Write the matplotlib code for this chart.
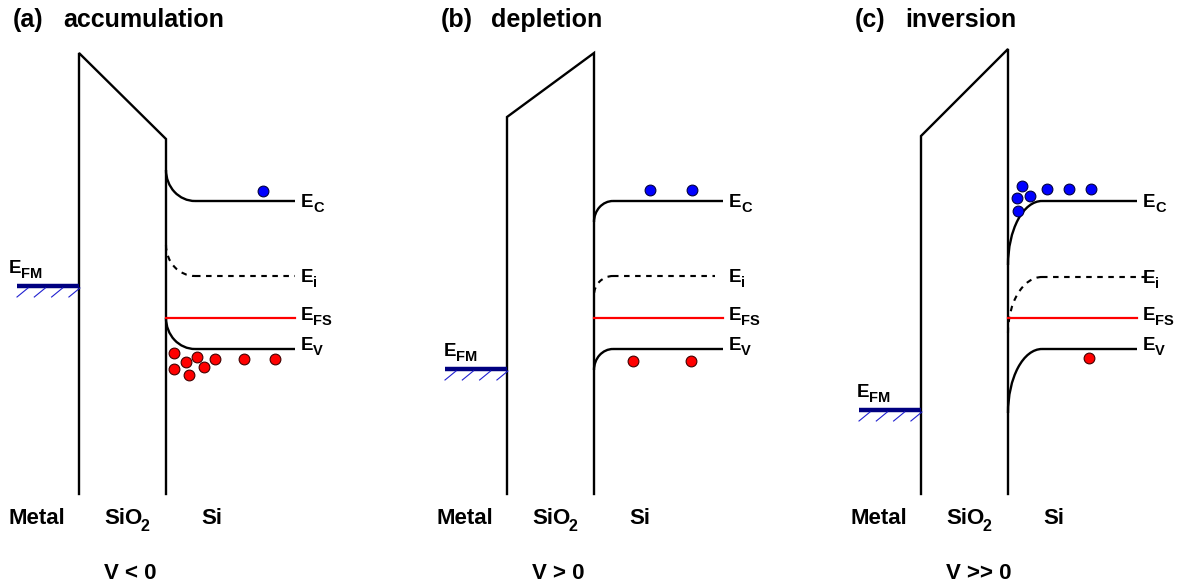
import numpy as np
import matplotlib
matplotlib.use("Agg")
import matplotlib.pyplot as plt
from matplotlib.patches import Arc

plt.rcParams['font.family'] = ['Liberation Sans', 'DejaVu Sans']
plt.rcParams['font.weight'] = 'bold'

# --- band diagram data (energies in drawing units, up = higher energy) ---
panel_tags = ['(a)', '(b)', '(c)']
regimes = ['accumulation', 'depletion', 'inversion']
bias = ['V < 0', 'V > 0', 'V >> 0']

ox_top_left = [532, 468, 449]     # oxide conduction edge at metal side
ox_top_right = [446, 532, 536]    # oxide conduction edge at Si side
ec_bulk = [384, 384, 384]
ec_surf = [415, 363, 320]
ei_bulk = [309, 309, 308]
ei_surf = [340, 290, 252]
efs = [267, 267, 267]
ev_bulk = [236, 236, 236]
ev_surf = [267, 215, 172]
efm = [299, 216, 175]

# carriers: (distance from metal/oxide interface, energy)
electrons = [
    [(184, 394)],
    [(143, 395), (185, 395)],
    [(101, 399), (96, 387), (109, 389), (97, 374), (126, 396), (148, 396), (170, 396)],
]
holes = [
    [(95, 232), (107, 223), (118, 228), (136, 226), (165, 226), (196, 226),
     (95, 216), (110, 210), (125, 218)],
    [(126, 224), (184, 224)],
    [(168, 227)],
]

# layout
x0 = [79, 507, 921]          # metal/oxide interface of each panel
tox = 87                     # oxide thickness
bend = [29, 19, 34]          # width of band bending region
band_end = 216
ei_end = [216, 208, 224]
wall_bottom = 91
efm_len = 62
efm_label_dx = [-70, -63, -64]

fig = plt.figure(figsize=(11.85, 5.85), dpi=100)
ax = fig.add_axes([0, 0, 1, 1])
ax.set_xlim(0, 1185)
ax.set_ylim(0, 585)
ax.axis('off')

LW = 1.7
DASH = (0, (2.6, 2.6))


def bent_level(ax, xs, w, surf, bulk, xend, **kw):
    # quarter-ellipse from the interface into the flat bulk level
    h = abs(surf - bulk)
    if surf > bulk:
        t1, t2 = 180, 270
    else:
        t1, t2 = 90, 180
    if h > 0:
        ax.add_patch(Arc((xs + w, surf), 2 * w, 2 * h, theta1=t1, theta2=t2,
                         fill=False, **kw))
    ax.plot([xs + w, xend], [bulk, bulk], solid_capstyle='butt', **kw)


def level_label(ax, x, y, sub, size=13.5, subsize=10.5, dx=8.7, dy=-3.8):
    ax.text(x, y, 'E', fontsize=size, ha='left', va='baseline')
    ax.annotate(sub, xy=(x, y), xytext=(dx, dy), textcoords='offset points',
                fontsize=subsize, ha='left', va='baseline')


for i in range(3):
    xm = x0[i]
    xs = xm + tox

    # oxide barrier
    ax.plot([xm, xm, xs, xs],
            [wall_bottom, ox_top_left[i], ox_top_right[i], wall_bottom],
            color='black', lw=LW, solid_joinstyle='miter')

    # bands in the silicon
    bent_level(ax, xs, bend[i], ec_surf[i], ec_bulk[i], xm + band_end,
               color='black', lw=LW)
    bent_level(ax, xs, bend[i], ei_surf[i], ei_bulk[i], xm + ei_end[i],
               color='black', lw=LW * 0.9, linestyle=DASH)
    bent_level(ax, xs, bend[i], ev_surf[i], ev_bulk[i], xm + band_end,
               color='black', lw=LW)
    ax.plot([xs, xm + band_end], [efs[i], efs[i]], color='red', lw=1.6)

    # metal Fermi level with hatching
    ax.plot([xm - efm_len, xm], [efm[i], efm[i]], color='#000080', lw=3.2,
            solid_capstyle='butt')
    for hx in np.arange(xm - efm_len, xm - 9, 17.3):
        ax.plot([hx, hx + 11], [efm[i] - 11, efm[i] - 2], color='#2020d0', lw=0.8)
    level_label(ax, xm + efm_label_dx[i], efm[i] + 13, 'FM')

    # band labels
    lx = xm + 222
    level_label(ax, lx, ec_bulk[i] - 6, 'C')
    level_label(ax, lx, ei_bulk[i] - 6, 'i')
    level_label(ax, lx, efs[i] - 2, 'FS')
    level_label(ax, lx, ev_bulk[i] - 1, 'V')

    # carriers
    ex, ey = np.array(electrons[i]).T
    ax.scatter(xm + ex, ey, s=60, color='#0000ff', edgecolor='#000040',
               linewidth=0.8, zorder=5)
    hx_, hy_ = np.array(holes[i]).T
    ax.scatter(xm + hx_, hy_, s=60, color='#ff0000', edgecolor='#400000',
               linewidth=0.8, zorder=5)

    # titles
    ax.text(xm - 66, 558, panel_tags[i], fontsize=18, ha='left', va='baseline')
    ax.text(xm - 16, 558, regimes[i], fontsize=18, ha='left', va='baseline')

    # region labels
    ax.text(xm - 71, 61, 'Metal', fontsize=16, ha='left', va='baseline')
    ax.text(xm + 25, 61, 'SiO', fontsize=16, ha='left', va='baseline')
    ax.annotate('2', xy=(xm + 25, 61), xytext=(26.6, -5),
                textcoords='offset points', fontsize=11.5, ha='left',
                va='baseline')
    ax.text(xm + 122, 61, 'Si', fontsize=16, ha='left', va='baseline')
    ax.text(xm + 25, 6, bias[i], fontsize=16, ha='left', va='baseline')

fig.savefig('out.png', dpi=100)
